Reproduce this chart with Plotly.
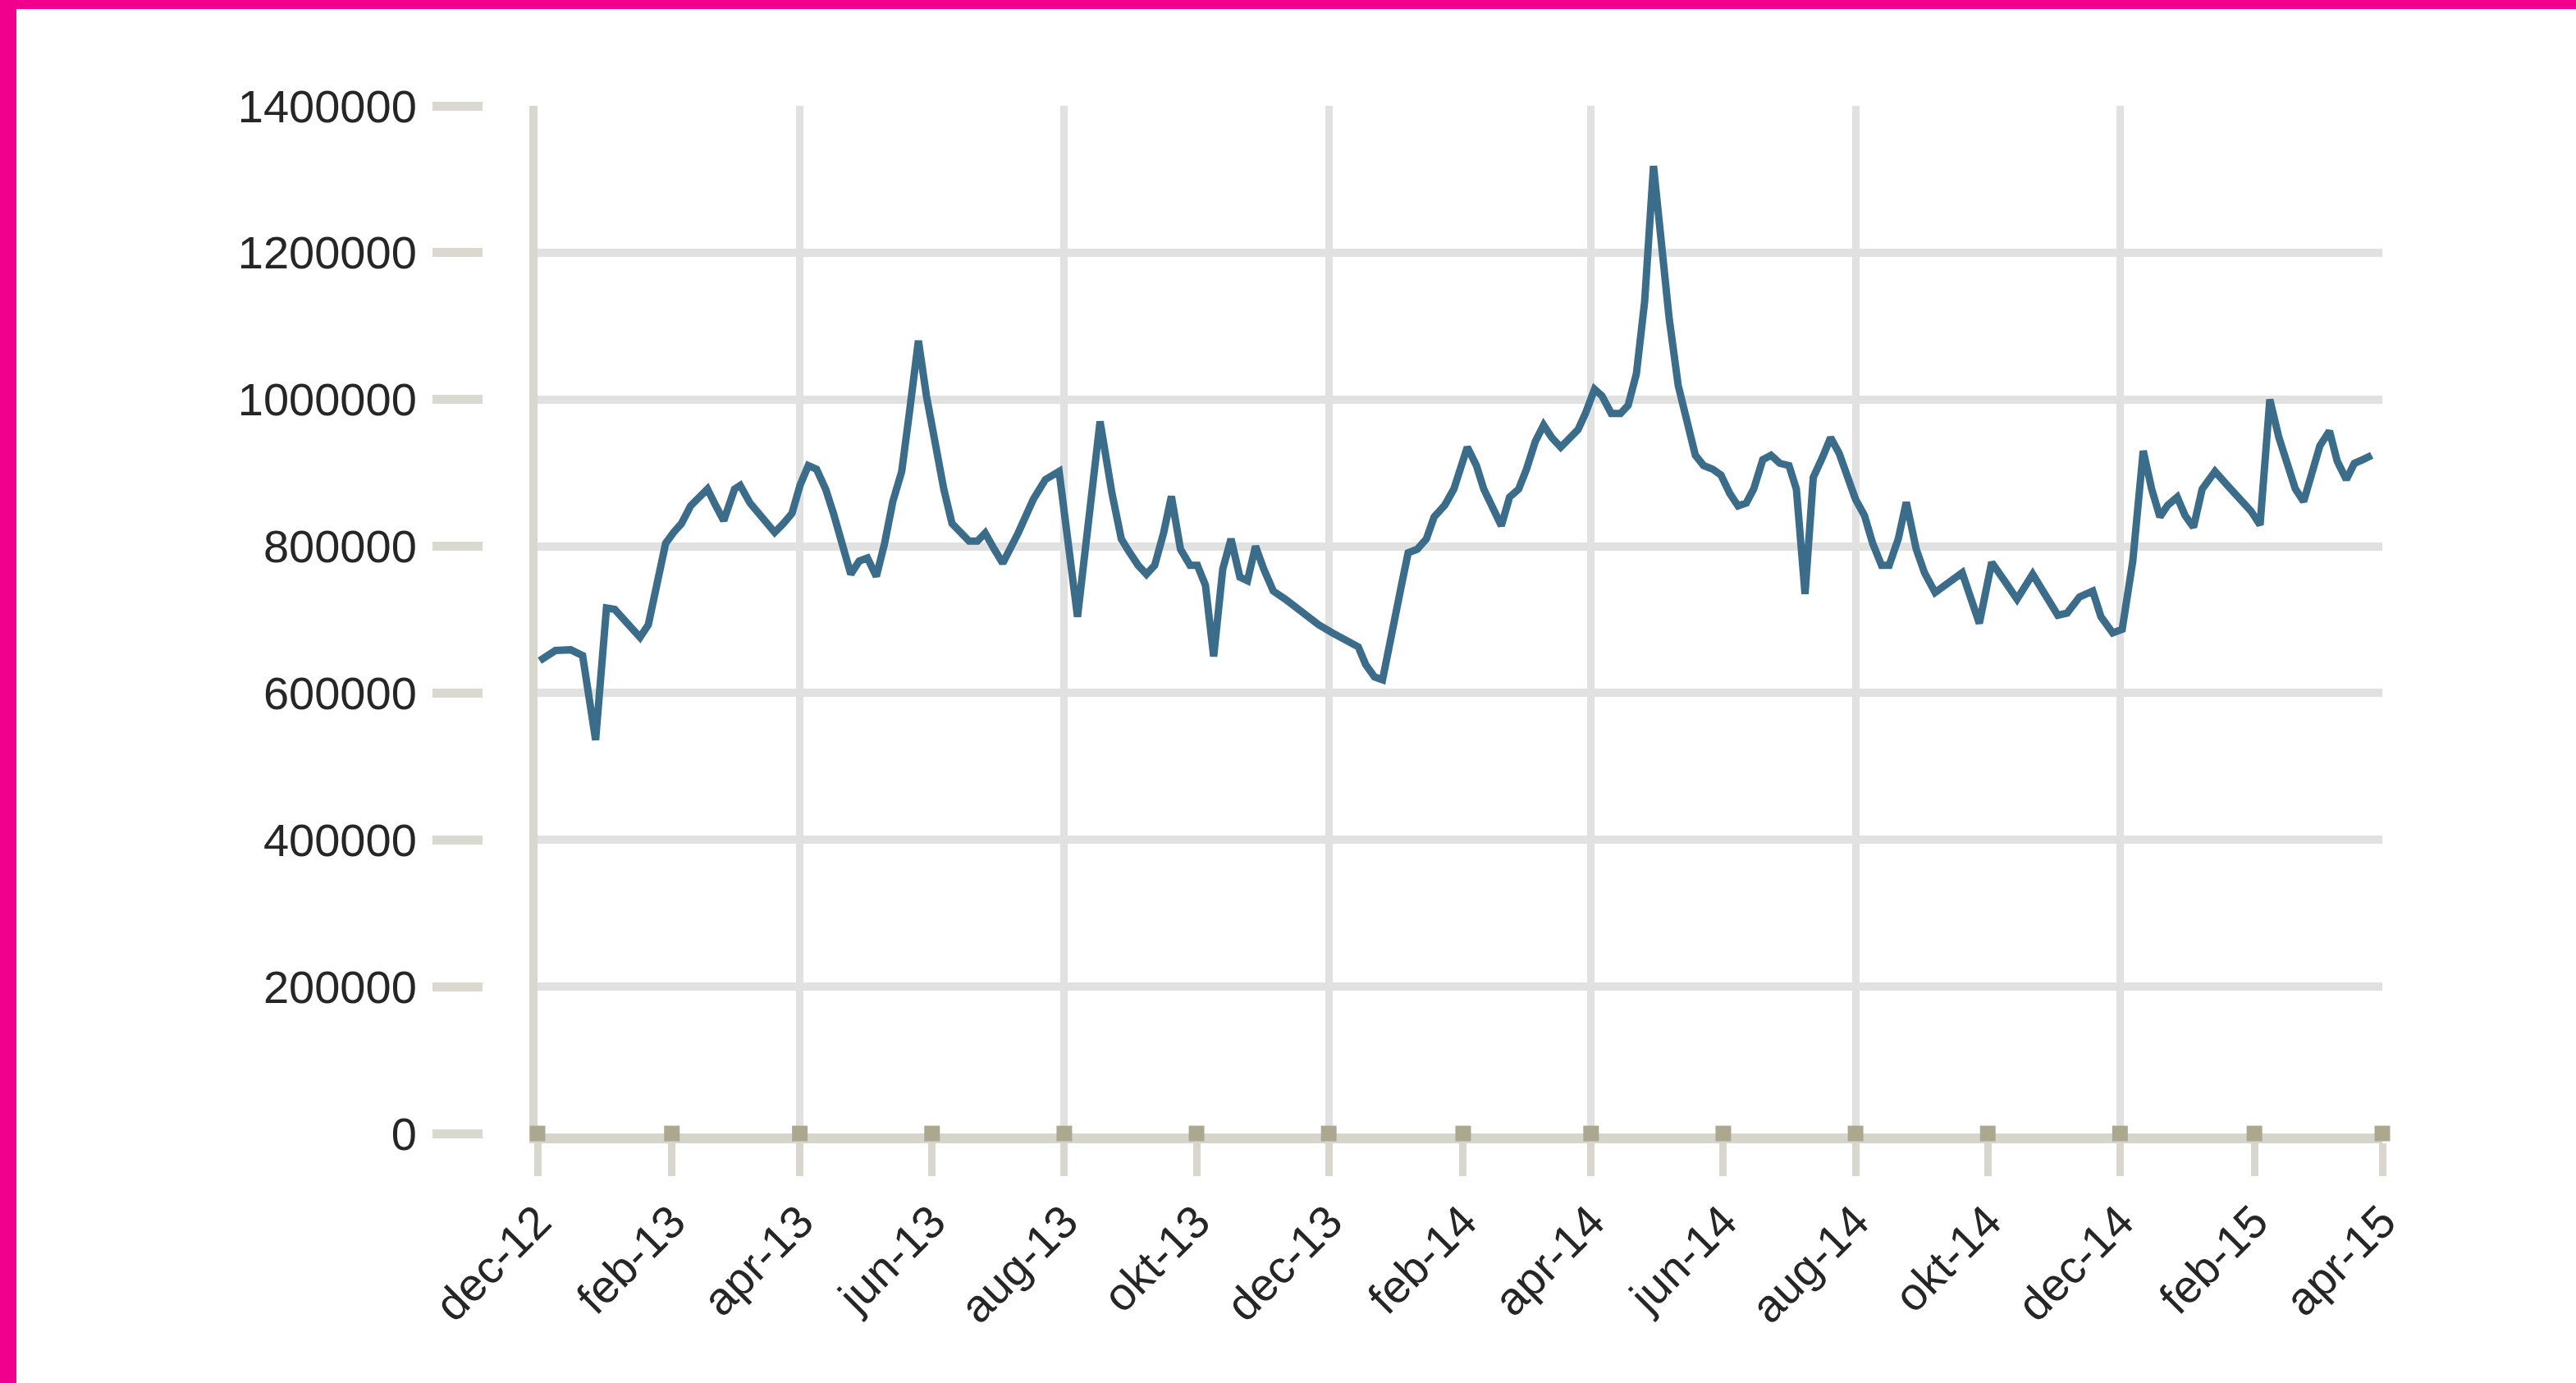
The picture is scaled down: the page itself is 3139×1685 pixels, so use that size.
import plotly.graph_objects as go
import pandas as pd

# ---------------- data ----------------
start_date = "2012-12-01"

# days after start_date for each reading
day_offsets = [
    1, 8.3, 15.3, 20.8, 26.8, 31.8, 35.6, 39.7, 43.3, 47.3, 51.1, 59.1, 62.8, 66.4, 70.6, 74.2,
    78.4, 82.1, 85.9, 90.9, 93.5, 98.0, 102.2, 105.6, 109.4, 113.4, 117.4, 121.1, 124.9, 128.7,
    132.9, 136.5, 140.7, 144.5, 148.4, 152.2, 156.3, 160.1, 163.9, 168.0, 171.5, 175.7, 179.4,
    183.4, 187.4, 191.2, 195.3, 199.1, 202.9, 206.5, 210.7,
    214.6, 221.7, 228.7, 234.3, 240.6, 249.1, 259.5, 265.0, 269.3, 272.8, 277.1, 280.9, 284.7,
    288.8, 292.4, 296.6, 301.0, 304.4, 308.1, 311.9, 316.1, 319.9, 324.0, 327.5, 331.2, 335.0,
    339.4, 344.9, 350.5, 354.7, 360.4, 366.7, 372.9, 378.6, 382.0, 386.1, 389.8, 394.0, 398.2,
    401.6, 405.8, 410.0, 413.6, 418.5, 422.7,
    428.9, 433.1, 436.5, 440.6, 444.6, 448.4, 452.6, 456.2, 460.3, 464.1, 467.9, 472.0, 475.7,
    480.0, 483.4, 487.6, 491.0, 495.3, 499.6, 503.1, 506.9, 510.7, 514.8, 518.4, 522.0, 526.2,
    530.4, 534.1, 537.9, 542.1, 545.9, 550.0, 553.8, 557.6, 561.0, 565.2, 569.0, 573.1, 577.3,
    580.7, 584.7, 588.5, 592.7, 596.5, 600.4, 604.2, 608.0, 612.1, 615.9, 620.0, 623.5, 627.7,
    631.4, 636.0,
    639.8, 644.7, 651.3, 657.2, 665.1, 670.8, 676.7, 682.5, 689.7, 694.7, 701.3, 705.6, 711.3,
    717.4, 721.2, 726.6, 731.0, 735.9, 740.7, 744.6, 748.4, 752.0, 756.4, 760.0, 763.9, 767.9,
    773.8, 779.5, 784.6, 790.4, 794.6, 799.1, 803.3, 807.5, 810.9, 814.7, 818.5, 822.2, 826.6,
    830.2, 834.4, 838.1, 841.9, 846.1,
]

values = [
    644000, 658000, 659000, 651000, 536000, 716000, 714000, 700000, 687000, 676000, 693000,
    804000, 819000, 831000, 855000, 867000, 878000, 856000, 835000, 878000, 883000, 859000,
    845000, 831000, 819000, 831000, 845000, 883000, 910000, 905000, 878000, 845000, 802000,
    762000, 780000, 784000, 759000, 804000, 861000, 902000, 981000, 1080000, 1005000, 937000,
    878000, 831000, 819000, 807000, 807000, 818000, 796000,
    777000, 818000, 864000, 891000, 902000, 704000, 970000, 872000, 810000, 793000, 774000,
    762000, 774000, 818000, 868000, 796000, 774000, 774000, 747000, 650000, 769000, 810000,
    758000, 753000, 800000, 769000, 739000, 728000, 715000, 704000, 693000, 682000, 671000,
    663000, 639000, 622000, 618000, 687000, 742000, 791000, 796000, 810000, 840000, 856000,
    878000,
    935000, 910000, 878000, 853000, 828000, 867000, 878000, 905000, 943000, 965000, 948000,
    935000, 946000, 959000, 981000, 1014000, 1005000, 981000, 981000, 992000, 1035000,
    1133000, 1318000, 1204000, 1111000, 1019000, 965000, 924000, 910000, 905000, 897000,
    872000, 855000, 859000, 878000, 918000, 924000, 913000, 910000, 878000, 735000, 894000,
    921000, 948000, 927000, 894000, 864000, 842000, 804000, 774000, 774000, 810000, 860000,
    796000,
    764000, 737000, 750000, 764000, 695000, 778000, 753000, 728000, 762000, 739000, 706000,
    709000, 731000, 739000, 704000, 682000, 687000, 780000, 930000, 878000, 840000, 856000,
    867000, 842000, 826000, 878000, 902000, 883000, 867000, 848000, 829000, 1000000, 948000,
    905000, 878000, 861000, 899000, 937000, 957000, 916000, 891000, 913000, 918000, 924000,
]

tick_dates = ["2012-12-01", "2013-02-01", "2013-04-01", "2013-06-01", "2013-08-01",
              "2013-10-01", "2013-12-01", "2014-02-01", "2014-04-01", "2014-06-01",
              "2014-08-01", "2014-10-01", "2014-12-01", "2015-02-01", "2015-04-01"]
tick_labels = ["dec-12", "feb-13", "apr-13", "jun-13", "aug-13", "okt-13", "dec-13",
               "feb-14", "apr-14", "jun-14", "aug-14", "okt-14", "dec-14", "feb-15", "apr-15"]
grid_dates = ["2013-04-01", "2013-08-01", "2013-12-01", "2014-04-01", "2014-08-01", "2014-12-01"]
y_ticks = [0, 200000, 400000, 600000, 800000, 1000000, 1200000, 1400000]

x_range = ["2012-12-01", "2015-04-01"]
y_range = [0, 1400000]

# ---------------- figure ----------------
dates = pd.to_datetime(start_date) + pd.to_timedelta(day_offsets, unit="D")

W, H = 3139, 1685
ML, MR, MT, MB = 400, 236, 129, 304
PW = W - ML - MR
PH = H - MT - MB
x_dom0 = (655 - ML) / PW
y2_pos = (588 - ML) / PW

FONT = "Liberation Sans, Arial, sans-serif"
TXT = "#262626"
GRID = "#e1e1e1"
BEIGE = "#d8d7cd"
FS = 56

fig = go.Figure()

fig.add_trace(go.Scatter(
    x=dates, y=values, mode="lines",
    line=dict(color="#3b6d8b", width=9),
    hoverinfo="skip", showlegend=False,
))

# tick squares on the baseline
fig.add_trace(go.Scatter(
    x=tick_dates, y=[0] * len(tick_dates), mode="markers",
    marker=dict(symbol="square", size=19, color="#aca890", line=dict(width=0)),
    cliponaxis=False, hoverinfo="skip", showlegend=False,
))

# invisible trace to carry the overlay axes (vertical grid + y labels)
fig.add_trace(go.Scatter(
    x=dates, y=values, mode="lines", xaxis="x2", yaxis="y2",
    line=dict(width=0, color="rgba(0,0,0,0)"), opacity=0,
    hoverinfo="skip", showlegend=False,
))

fig.update_layout(
    width=W, height=H,
    margin=dict(l=ML, r=MR, t=MT, b=MB, pad=0),
    paper_bgcolor="white", plot_bgcolor="white",
    showlegend=False,
    font=dict(family=FONT, color=TXT, size=FS),
    xaxis=dict(
        domain=[x_dom0, 1], type="date", range=x_range,
        tickmode="array", tickvals=tick_dates, ticktext=tick_labels,
        tickangle=-45, ticks="outside", ticklen=40, tickwidth=9, tickcolor=BEIGE,
        showline=True, linecolor="#d6d5cb", linewidth=12,
        showgrid=False, zeroline=False, layer="below traces",
        tickfont=dict(family=FONT, size=FS, color=TXT),
        fixedrange=True,
    ),
    xaxis2=dict(
        overlaying="x", type="date", range=x_range,
        tickmode="array", tickvals=grid_dates, showticklabels=False, ticks="",
        showgrid=True, gridcolor=GRID, gridwidth=9,
        showline=False, zeroline=False, layer="below traces", anchor="y2",
    ),
    yaxis=dict(
        domain=[0, 1], range=y_range,
        tickmode="array", tickvals=y_ticks, showticklabels=False, ticks="",
        showgrid=True, gridcolor=GRID, gridwidth=10,
        showline=True, linecolor=BEIGE, linewidth=10,
        zeroline=False, layer="below traces",
    ),
    yaxis2=dict(
        overlaying="y", anchor="free", position=y2_pos, side="left", range=y_range,
        tickmode="array", tickvals=y_ticks, tickformat="d",
        ticks="outside", ticklen=61, tickwidth=11, tickcolor="#dad9d0",
        showline=False, showgrid=False, zeroline=False,
        ticklabelstandoff=8,
        tickfont=dict(family=FONT, size=FS, color=TXT),
    ),
    shapes=[
        dict(type="rect", xref="paper", yref="paper", layer="above",
             x0=(0 - 10 - ML) / PW, x1=(20 - ML) / PW,
             y0=(MT + PH - H - 10) / PH, y1=(MT + PH + 10) / PH,
             fillcolor="#f0008c", line=dict(width=0)),
        dict(type="rect", xref="paper", yref="paper", layer="above",
             x0=(0 - 10 - ML) / PW, x1=(W + 10 - ML) / PW,
             y0=(MT + PH - 11) / PH, y1=(MT + PH + 10) / PH,
             fillcolor="#f0008c", line=dict(width=0)),
    ],
)

fig.write_html(
    "out.html",
    config={"displayModeBar": False},
    post_script="document.body.style.margin='0';document.body.style.overflow='hidden';",
)
